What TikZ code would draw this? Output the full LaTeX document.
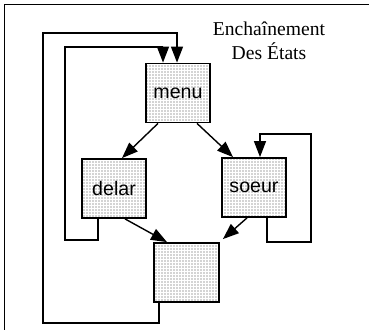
\documentclass[tikz,border=0pt]{standalone}
\usepackage{fontspec}
\setmainfont{Liberation Serif}
\setsansfont{Liberation Sans}
\usepackage{tikz}
\usetikzlibrary{arrows.meta,calc,patterns.meta}
\definecolor{dotgray}{RGB}{70,70,70}

\tikzset{
  etat/.style={draw,line width=0.9pt,minimum width=32pt,minimum height=29.5pt,inner sep=0pt,
    pattern={Dots[distance=1.5pt,radius=0.3pt]},pattern color=dotgray,
    font=\sffamily\fontsize{9.8}{11}\selectfont},
  lien/.style={line width=0.7pt,-{Triangle[length=8pt,width=6pt]}},
}

\begin{document}
\begin{tikzpicture}[x=0.5pt,y=-0.5pt]
    \useasboundingbox (0,0) rectangle (369,330);
    \draw[line width=0.9pt] (4.5,330) -- (4.5,4.5) -- (369,4.5);
    \node[align=center,font=\fontsize{9.8}{12}\selectfont] (titre) at (269,41) {Encha\^inement\\ Des \'Etats};
    % etats
    \node[etat] (menu) at (178,93) {menu};
    \node[etat] (delar) at (114,188.5) {delar};
    \node[etat] (soeur) at (254,187.5) {soeur};
    \node[etat,minimum width=32.5pt] (fin) at (186.5,272.5) {};
    % transitions directes
    \draw[lien] ($(menu.south)+(-20,0)$) -- ($(delar.north)+(8,0)$);
    \draw[lien] ($(menu.south)+(19,0)$) -- ($(soeur.north)+(-21,0)$);
    \draw[lien] ($(delar.south)+(11,0)$) -- ($(fin.north)+(-19.5,0)$);
    \draw[lien] ($(soeur.south)+(-7,0)$) -- ($(fin.north east)+(3,-3)$);
    % boucles
    \coordinate (d1) at ($(delar.south west)+(17,0)$);
    \coordinate (d2) at ($(menu.north)+(-15,0)$);
    \draw[lien] (d1) -- (d1 |- 0,240) -- (65,240) -- (65,47) -- (d2 |- 0,47) -- (d2);
    \coordinate (f1) at ($(fin.south west)+(6,0)$);
    \coordinate (f2) at ($(menu.north)+(-1,0)$);
    \draw[lien] (f1) -- (f1 |- 0,323) -- (43,323) -- (43,33) -- (f2 |- 0,33) -- (f2);
    \coordinate (s1) at ($(soeur.south)+(13,0)$);
    \coordinate (s2) at ($(soeur.north)+(6,0)$);
    \draw[lien] (s1) -- (s1 |- 0,242) -- (311,242) -- (311,134) -- (s2 |- 0,134) -- (s2);
\end{tikzpicture}
\end{document}
